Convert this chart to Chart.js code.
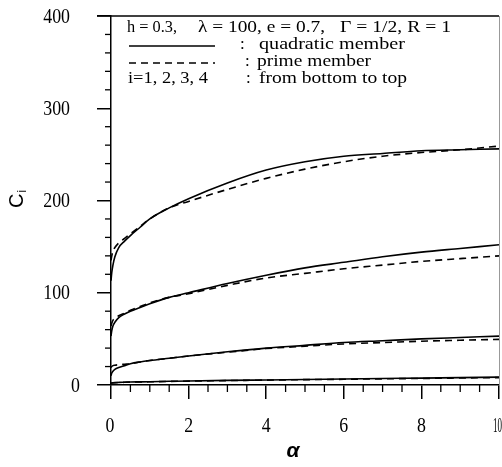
<!DOCTYPE html>
<html>
<head>
<meta charset="utf-8">
<script src="https://cdn.jsdelivr.net/npm/chart.js@4/dist/chart.umd.min.js"></script>
<style>
  body { margin: 0; background: #fff; }
  canvas { display: block; }
</style>
</head>
<body>
<canvas id="chart" width="502" height="467"></canvas>
<script>
// alpha values along the x axis
const alpha = [0, 0.02, 0.05, 0.1, 0.2, 0.35, 0.5, 0.75, 1, 1.5, 2, 3, 4, 5, 6, 7, 8, 9, 10];

// C_i, i = 1..4, quadratic member (solid) and prime member (dashed)
const quad1 = [2, 2.2, 2.4, 2.6, 2.8, 3, 3.2, 3.4, 3.6, 4, 4.4, 5, 5.5, 6, 6.5, 7, 7.5, 8, 8.5];
const prime1 = [2, 2.1, 2.3, 2.5, 2.7, 2.9, 3.1, 3.3, 3.5, 3.9, 4.2, 4.8, 5.3, 5.8, 6.2, 6.7, 7.1, 7.6, 8];
const quad2 = [10, 13, 15, 17, 19, 21, 23, 25, 26.5, 29, 31.5, 36, 40, 43, 46, 48, 50, 51.5, 53];
const prime2 = [19, 20, 21, 21.5, 22, 22.5, 23, 25, 26.5, 29, 31.5, 35.5, 39.5, 42, 44.5, 46, 47.5, 48.5, 49.5];
const quad3 = [53, 59, 64, 68, 73, 77, 80, 84, 88, 95, 100, 110, 119, 127, 133, 139, 144, 148, 152];
const prime3 = [64, 67, 70, 72, 75, 78, 81, 85, 89, 95, 99, 108, 116, 121, 126, 130, 134, 137, 140];
const quad4 = [113, 122, 130, 139, 149, 156, 162, 171, 180, 192, 202, 219, 233, 242, 248, 251, 254, 255, 256];
const prime4 = [135, 140, 145, 149, 154, 159, 164, 172, 180, 192, 199, 212, 224, 234, 242, 248, 252, 255, 259];

const yTicks = [0, 100, 200, 300, 400];
const xTicks = [0, 2, 4, 6, 8, 10];

const serif = '"Liberation Serif", "Times New Roman", serif';

function series(ys, dashed) {
    return {
        data: alpha.map((a, i) => ({ x: a, y: ys[i] })),
        borderColor: '#000',
        borderWidth: 1.6,
        borderDash: dashed ? [7, 5] : [],
        pointRadius: 0,
        fill: false,
        cubicInterpolationMode: 'monotone'
    };
}

// draw text squeezed/stretched to a given width
function fitText(ctx, str, x, y, w) {
    const m = ctx.measureText(str).width;
    ctx.save();
    ctx.translate(x, y);
    ctx.scale(w / m, 1);
    ctx.fillText(str, 0, 0);
    ctx.restore();
}

// draw text with a horizontal scale factor
function squeezed(ctx, str, x, y, sx) {
    ctx.save();
    ctx.translate(x, y);
    ctx.scale(sx, 1);
    ctx.fillText(str, 0, 0);
    ctx.restore();
}

const decorations = {
    id: 'decorations',
    afterDraw(chart) {
        const ctx = chart.ctx;
        const xs = chart.scales.x, ys = chart.scales.y;
        const area = chart.chartArea;
        ctx.save();
        ctx.strokeStyle = '#000';
        ctx.fillStyle = '#000';

        // top frame line and light right edge
        ctx.lineWidth = 1.5;
        ctx.beginPath();
        ctx.moveTo(area.left - 14, area.top);
        ctx.lineTo(area.right, area.top);
        ctx.stroke();
        ctx.strokeStyle = '#999';
        ctx.lineWidth = 1;
        ctx.beginPath();
        ctx.moveTo(area.right + 0.5, area.top);
        ctx.lineTo(area.right + 0.5, area.bottom);
        ctx.stroke();
        ctx.strokeStyle = '#000';

        // minor ticks
        ctx.lineWidth = 1.3;
        for (let v = 20; v < 400; v += 20) {
            if (v % 100 === 0) continue;
            const py = ys.getPixelForValue(v);
            ctx.beginPath();
            ctx.moveTo(area.left - 6, py);
            ctx.lineTo(area.left, py);
            ctx.stroke();
        }
        for (let v = 0.5; v < 10; v += 0.5) {
            if (v % 2 === 0) continue;
            const px = xs.getPixelForValue(v);
            ctx.beginPath();
            ctx.moveTo(px, area.bottom);
            ctx.lineTo(px, area.bottom + 7);
            ctx.stroke();
        }

        // tick labels
        ctx.font = '21px ' + serif;
        ctx.textBaseline = 'middle';
        ctx.textAlign = 'right';
        yTicks.forEach(v => {
            const py = ys.getPixelForValue(v);
            squeezed(ctx, String(v), v === 0 ? 80 : 70, py + 1, 0.85);
        });
        ctx.textAlign = 'center';
        xTicks.forEach(v => {
            const px = xs.getPixelForValue(v);
            if (v === 10) {
                ctx.textAlign = 'left';
                fitText(ctx, '10', 493, 426, 9);
                ctx.textAlign = 'center';
            } else {
                squeezed(ctx, String(v), px - (v === 0 ? 1 : 0), 426, 0.85);
            }
        });

        // axis titles
        ctx.font = 'italic bold 21px "Liberation Sans", Arial, sans-serif';
        ctx.fillText('α', 293, 451);

        ctx.save();
        ctx.translate(17, 208);
        ctx.rotate(-Math.PI / 2);
        ctx.textAlign = 'left';
        ctx.font = '20px "Liberation Sans", Arial, sans-serif';
        ctx.fillText('C', 0, 0);
        const cw = ctx.measureText('C').width;
        ctx.font = '12px "Liberation Sans", Arial, sans-serif';
        ctx.fillText('i', cw + 1, 6);
        ctx.restore();

        // legend block
        ctx.font = '17px ' + serif;
        ctx.textAlign = 'left';
        fitText(ctx, 'h = 0.3,', 127, 28, 50);
        fitText(ctx, 'λ = 100, e = 0.7,', 198, 28, 127);
        fitText(ctx, 'Γ = 1/2, R = 1', 340, 28, 111);

        ctx.lineWidth = 1.5;
        ctx.beginPath();
        ctx.moveTo(129, 46);
        ctx.lineTo(215, 46);
        ctx.stroke();
        ctx.setLineDash([7, 5]);
        ctx.beginPath();
        ctx.moveTo(129, 63);
        ctx.lineTo(215, 63);
        ctx.stroke();
        ctx.setLineDash([]);

        ctx.fillText(':', 240, 45);
        fitText(ctx, 'quadratic member', 259, 45, 146);
        ctx.fillText(':', 245, 62);
        fitText(ctx, 'prime member', 257, 62, 114);
        fitText(ctx, 'i=1, 2, 3, 4', 128, 79, 80);
        ctx.fillText(':', 246, 79);
        fitText(ctx, 'from bottom to top', 259, 79, 148);

        ctx.restore();
    }
};

new Chart(document.getElementById('chart'), {
    type: 'line',
    data: {
        datasets: [
            series(quad1, false), series(prime1, true),
            series(quad2, false), series(prime2, true),
            series(quad3, false), series(prime3, true),
            series(quad4, false), series(prime4, true)
        ]
    },
    options: {
        responsive: false,
        animation: false,
        layout: { padding: { left: 0, right: 2, top: 16, bottom: 0 } },
        plugins: { legend: { display: false }, tooltip: { enabled: false } },
        scales: {
            x: {
                type: 'linear',
                min: 0,
                max: 10,
                afterFit: s => { s.height = 82; },
                ticks: { stepSize: 2, autoSkip: false, callback: () => '' },
                grid: { drawOnChartArea: false, drawTicks: true, tickLength: 14, color: '#000', lineWidth: 1.5 },
                border: { display: true, color: '#000', width: 1.5 }
            },
            y: {
                min: 0,
                max: 400,
                afterFit: s => { s.width = 111; },
                ticks: { stepSize: 100, autoSkip: false, callback: () => '' },
                grid: { drawOnChartArea: false, drawTicks: true, tickLength: 14, color: '#000', lineWidth: 1.5 },
                border: { display: true, color: '#000', width: 1.5 }
            }
        }
    },
    plugins: [decorations]
});
</script>
</body>
</html>
